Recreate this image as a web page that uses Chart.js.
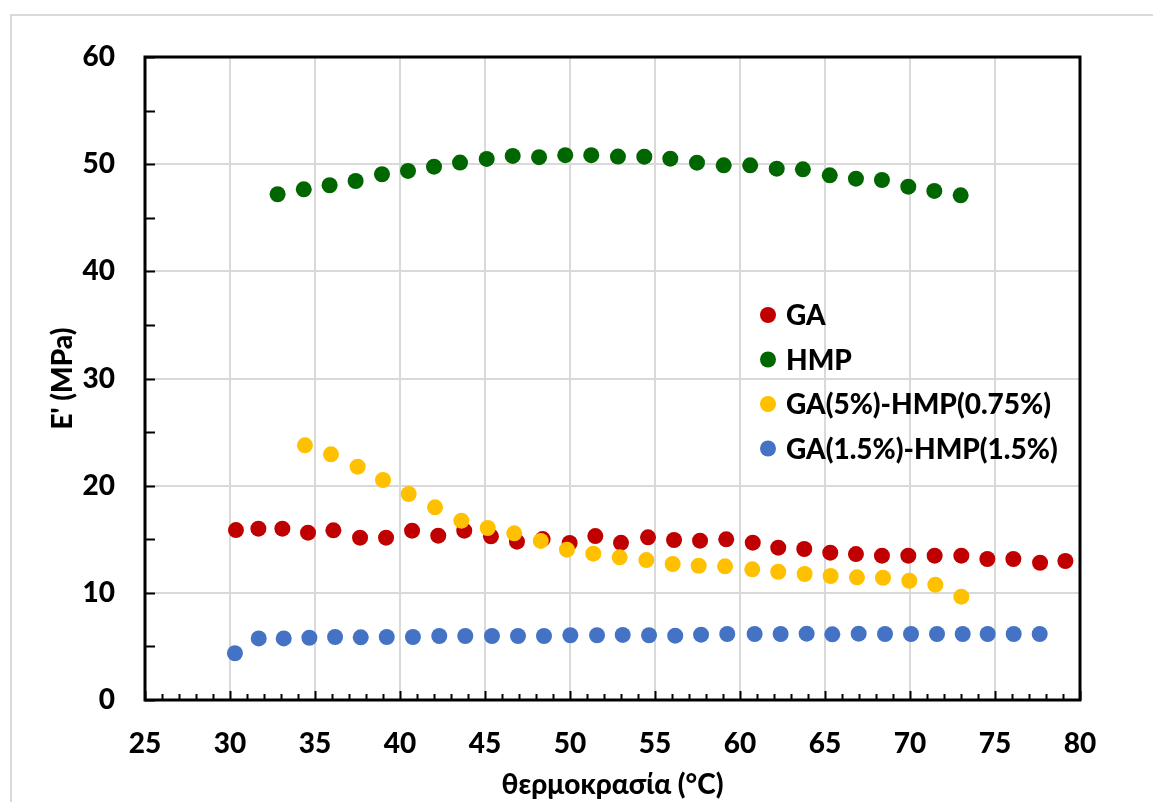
<!DOCTYPE html>
<html>
<head>
<meta charset="utf-8">
<script src="https://cdn.jsdelivr.net/npm/chart.js@4.4.1/dist/chart.umd.min.js"></script>
<style>
  html, body { margin: 0; padding: 0; background: #fff; }
  #wrap { width: 1153px; height: 802px; position: relative; }
</style>
</head>
<body>
<div id="wrap"><canvas id="chart" width="1153" height="802"></canvas></div>
<script>
// temperatures (°C) and storage modulus E' (MPa)
const gaTemp = [30.35, 31.67, 33.08, 34.59, 36.08, 37.65, 39.18, 40.71, 42.25, 43.78, 45.35, 46.88, 48.39, 49.98, 51.49, 53.0, 54.59, 56.12, 57.65, 59.19, 60.75, 62.25, 63.78, 65.31, 66.82, 68.35, 69.9, 71.45, 73.02, 74.55, 76.08, 77.65, 79.14];
const gaE = [15.86, 15.99, 15.99, 15.61, 15.83, 15.15, 15.15, 15.8, 15.33, 15.8, 15.27, 14.77, 15.02, 14.65, 15.3, 14.67, 15.18, 14.93, 14.87, 14.99, 14.68, 14.21, 14.09, 13.75, 13.62, 13.47, 13.47, 13.47, 13.47, 13.16, 13.16, 12.81, 12.97];

const hmpTemp = [32.8, 34.34, 35.86, 37.39, 38.94, 40.47, 42.0, 43.53, 45.1, 46.63, 48.18, 49.72, 51.25, 52.82, 54.37, 55.9, 57.47, 59.04, 60.6, 62.16, 63.7, 65.28, 66.82, 68.35, 69.9, 71.43, 72.98];
const hmpE = [47.19, 47.65, 48.03, 48.43, 49.06, 49.37, 49.77, 50.15, 50.49, 50.77, 50.65, 50.84, 50.84, 50.71, 50.7, 50.51, 50.14, 49.89, 49.89, 49.58, 49.52, 48.96, 48.65, 48.52, 47.9, 47.5, 47.09];

const mix1Temp = [34.41, 35.94, 37.51, 39.0, 40.51, 42.06, 43.61, 45.16, 46.72, 48.28, 49.82, 51.37, 52.92, 54.49, 56.04, 57.57, 59.12, 60.72, 62.25, 63.8, 65.33, 66.88, 68.41, 69.96, 71.49, 73.02];
const mix1E = [23.76, 22.92, 21.77, 20.53, 19.22, 17.98, 16.73, 16.05, 15.55, 14.84, 14.03, 13.65, 13.31, 13.06, 12.69, 12.53, 12.47, 12.19, 11.97, 11.76, 11.57, 11.45, 11.41, 11.13, 10.76, 9.64];

const mix2Temp = [30.29, 31.69, 33.16, 34.67, 36.18, 37.69, 39.22, 40.76, 42.31, 43.84, 45.41, 46.94, 48.47, 50.02, 51.59, 53.1, 54.65, 56.19, 57.71, 59.25, 60.86, 62.39, 63.92, 65.43, 66.98, 68.53, 70.06, 71.59, 73.1, 74.57, 76.1, 77.63];
const mix2E = [4.36, 5.75, 5.75, 5.81, 5.88, 5.85, 5.88, 5.88, 5.97, 5.97, 5.97, 5.97, 5.97, 6.04, 6.04, 6.07, 6.04, 6.0, 6.1, 6.16, 6.16, 6.16, 6.19, 6.13, 6.19, 6.16, 6.16, 6.16, 6.16, 6.16, 6.16, 6.16];

const seriesNames = ['GA', 'HMP', 'GA(5%)-HMP(0.75%)', 'GA(1.5%)-HMP(1.5%)'];
const xTicks = [25, 30, 35, 40, 45, 50, 55, 60, 65, 70, 75, 80];
const yTicks = [0, 10, 20, 30, 40, 50, 60];

const FONT = "Lato, 'Open Sans', sans-serif";
const WEIGHT = 900;

function pts(xs, ys) { return xs.map((x, i) => ({ x: x, y: ys[i] })); }

function ds(label, xs, ys, color, order) {
    return {
        label: label,
        data: pts(xs, ys),
        backgroundColor: color,
        borderColor: color,
        pointRadius: 8,
        pointHoverRadius: 8,
        borderWidth: 0,
        order: order
    };
}

// outer frame, plot box, inward tick marks, legend inside the plot
const decor = {
    id: 'decor',
    beforeDraw(chart) {
        const c = chart.ctx;
        c.save();
        c.strokeStyle = '#d9d9d9';
        c.lineWidth = 2;
        c.strokeRect(11, 15, 1160, 820);
        c.restore();
    },
    afterDatasetsDraw(chart) {
        const c = chart.ctx, a = chart.chartArea;
        const xs = chart.scales.x, ys = chart.scales.y;
        c.save();
        c.strokeStyle = '#000';
        c.lineWidth = 2;
        for (let v = 25; v <= 80; v++) {
            const px = Math.round(xs.getPixelForValue(v)) + 0.5;
            const len = v % 5 === 0 ? 9 : 6;
            c.beginPath(); c.moveTo(px, a.bottom); c.lineTo(px, a.bottom - len); c.stroke();
        }
        for (let v = 0; v <= 60; v += 5) {
            const py = Math.round(ys.getPixelForValue(v)) + 0.5;
            c.beginPath(); c.moveTo(a.left, py); c.lineTo(a.left + 10, py); c.stroke();
        }
        c.lineWidth = 3;
        c.strokeRect(a.left, a.top, a.right - a.left, a.bottom - a.top);

        // legend
        c.font = WEIGHT + ' 28px ' + FONT;
        c.textBaseline = 'middle';
        chart.data.datasets.forEach((d, i) => {
            const y = a.top + 258 + i * 44.5;
            c.beginPath();
            c.fillStyle = d.backgroundColor;
            c.arc(a.left + 623, y, 8, 0, Math.PI * 2);
            c.fill();
            c.fillStyle = '#000';
            c.fillText(d.label, a.left + 641, y + 1);
        });
        c.restore();
    }
};

new Chart(document.getElementById('chart'), {
    type: 'scatter',
    data: {
        datasets: [
            ds(seriesNames[0], gaTemp, gaE, '#C00000', 4),
            ds(seriesNames[1], hmpTemp, hmpE, '#006600', 3),
            ds(seriesNames[2], mix1Temp, mix1E, '#FFC000', 2),
            ds(seriesNames[3], mix2Temp, mix2E, '#4472C4', 1)
        ]
    },
    options: {
        responsive: false,
        animation: false,
        layout: { padding: { top: 57, right: 73, left: 0, bottom: 0 } },
        plugins: { legend: { display: false }, tooltip: { enabled: false } },
        scales: {
            x: {
                type: 'linear',
                min: 25, max: 80,
                afterBuildTicks: s => { s.ticks = xTicks.map(v => ({ value: v })); },
                afterFit: s => { s.height = 102; },
                grid: { color: '#d9d9d9', lineWidth: 2, drawTicks: false },
                border: { display: false },
                ticks: { padding: 27, color: '#000', font: { family: FONT, size: 28, weight: WEIGHT } },
                title: { display: true, text: 'θερμοκρασία (°C)', color: '#000', padding: { top: 0, bottom: 0 }, font: { family: FONT, size: 28, weight: WEIGHT } }
            },
            y: {
                type: 'linear',
                min: 0, max: 60,
                afterBuildTicks: s => { s.ticks = yTicks.map(v => ({ value: v })); },
                afterFit: s => { s.width = 145; },
                grid: { color: '#d9d9d9', lineWidth: 2, drawTicks: false },
                border: { display: false },
                ticks: { padding: 30, color: '#000', font: { family: FONT, size: 28, weight: WEIGHT } },
                title: { display: true, text: "E' (MPa)", color: '#000', padding: { top: 46, bottom: 0 }, font: { family: FONT, size: 28, weight: WEIGHT } }
            }
        }
    },
    plugins: [decor]
});
</script>
</body>
</html>
